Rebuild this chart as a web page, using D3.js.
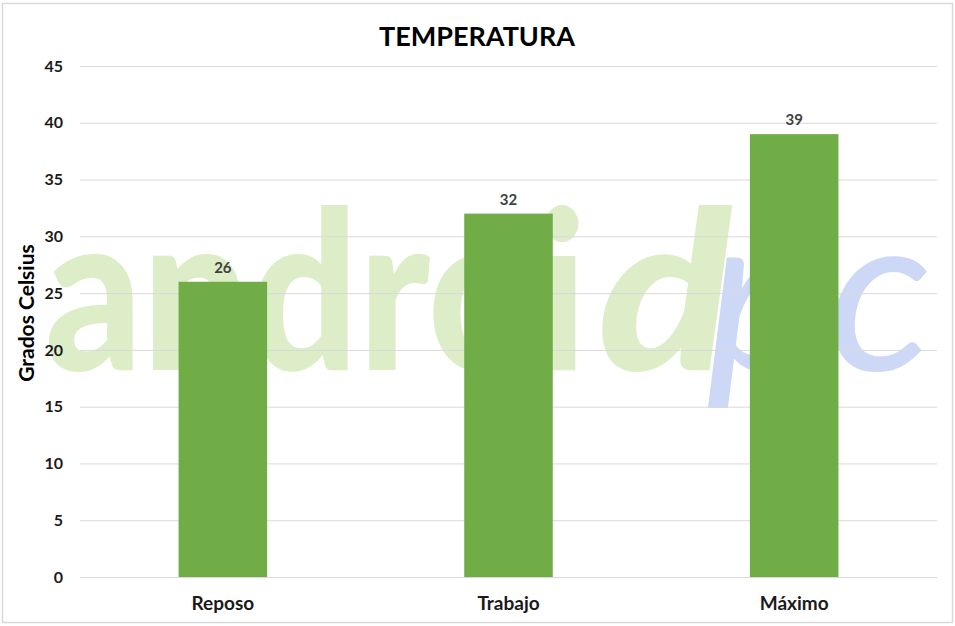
<!DOCTYPE html>
<html>
<head>
<meta charset="utf-8">
<script src="https://cdn.jsdelivr.net/npm/d3@7"></script>
<style>
  html, body { margin: 0; padding: 0; background: #fff; }
  svg { display: block; }
</style>
</head>
<body>
<svg id="chart" width="955" height="626"></svg>
<script>
const categories = ["Reposo", "Trabajo", "Máximo"];
const values = [26, 32, 39];
const yTicks = [0, 5, 10, 15, 20, 25, 30, 35, 40, 45];
const title = "TEMPERATURA";
const yLabel = "Grados Celsius";

const W = 955, H = 626;
const m = { left: 80, right: 18, top: 66, bottom: 49 };
const svg = d3.select("#chart");
const font = "Lato, 'Open Sans', sans-serif";

// frame
svg.append("rect").attr("x", 2.5).attr("y", 3.5).attr("width", 950).attr("height", 619)
  .attr("fill", "#fff").attr("stroke", "#d9d9d9").attr("stroke-width", 1.5);

const x = d3.scaleBand().domain(categories).range([m.left, W - m.right])
  .paddingInner(0.69).paddingOuter(0.345);
const y = d3.scaleLinear().domain([0, 45]).range([H - m.bottom, m.top]);

// watermark
const wm = svg.append("g").attr("font-family", font).attr("font-size", 222);
wm.append("text").attr("x", 45).attr("y", 370).attr("font-weight", 900)
  .attr("fill", "#dcedc8").attr("textLength", 542).attr("lengthAdjust", "spacingAndGlyphs")
  .text("androi");
wm.append("text").attr("x", 598).attr("y", 370).attr("font-weight", 900).attr("font-style", "italic")
  .attr("fill", "#dcedc8").attr("textLength", 134).attr("lengthAdjust", "spacingAndGlyphs")
  .text("d");
wm.append("text").attr("x", 706).attr("y", 370).attr("font-weight", 400).attr("font-style", "italic")
  .attr("fill", "#ccd8f6").attr("textLength", 226).attr("lengthAdjust", "spacingAndGlyphs")
  .text("pc");

// gridlines
const yAxis = d3.axisLeft(y).tickValues(yTicks).tickSize(-(W - m.left - m.right)).tickPadding(17);
const gy = svg.append("g").attr("transform", `translate(${m.left},0)`).call(yAxis);
gy.select(".domain").remove();
gy.selectAll(".tick line").attr("stroke", "#d9d9d9").attr("stroke-width", 1);
gy.selectAll(".tick text").attr("font-family", font).attr("font-size", 16).attr("font-weight", 700)
  .attr("fill", "#1a1a1a");

// bars
svg.append("g").selectAll("rect").data(values).join("rect")
  .attr("x", (d, i) => x(categories[i]))
  .attr("y", d => y(d))
  .attr("width", x.bandwidth())
  .attr("height", d => y(0) - y(d))
  .attr("fill", "#70ad47");

// data labels
svg.append("g").selectAll("text").data(values).join("text")
  .attr("x", (d, i) => x(categories[i]) + x.bandwidth() / 2)
  .attr("y", d => y(d) - 9)
  .attr("text-anchor", "middle")
  .attr("font-family", font).attr("font-size", 15).attr("font-weight", 700)
  .attr("fill", "#404040")
  .text(d => d);

// x axis
const xAxis = d3.axisBottom(x).tickSize(0).tickPadding(20);
const gx = svg.append("g").attr("transform", `translate(0,${y(0)})`).call(xAxis);
gx.select(".domain").attr("stroke", "#d9d9d9");
gx.selectAll(".tick text").attr("font-family", font).attr("font-size", 19).attr("font-weight", 700)
  .attr("fill", "#1a1a1a");

// title
svg.append("text").attr("x", 477).attr("y", 46).attr("text-anchor", "middle")
  .attr("font-family", font).attr("font-size", 27).attr("font-weight", 700).attr("fill", "#000")
  .text(title);

// y label
svg.append("text").attr("transform", `translate(34,313) rotate(-90)`)
  .attr("text-anchor", "middle")
  .attr("font-family", font).attr("font-size", 21).attr("font-weight", 700).attr("fill", "#000")
  .text(yLabel);
</script>
</body>
</html>
